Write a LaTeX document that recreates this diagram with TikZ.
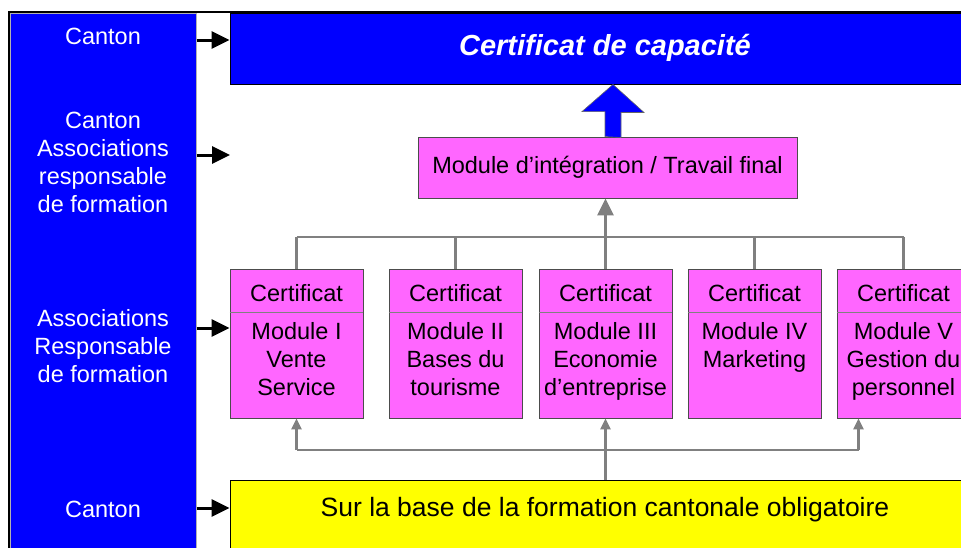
\documentclass[tikz,border=0pt]{standalone}
\usepackage{fontspec}
\setmainfont{Liberation Sans}
\usetikzlibrary{arrows.meta, positioning, calc}

\definecolor{capblue}{HTML}{0000FF}
\definecolor{modpink}{HTML}{FF66FF}
\definecolor{baseyellow}{HTML}{FFFF00}

\begin{document}
\begin{tikzpicture}[x=1pt, y=-1pt,
      txt/.style={
        font=\fontsize{23.5}{28}\selectfont, align=center, inner sep=0pt
      },
      side/.style={txt, text=white},
      module/.style={
        rectangle, draw=black!70, fill=modpink, line width=0.8pt,
        minimum width=133pt, minimum height=149pt, inner sep=0pt
      },
      blk/.style={
        -{Triangle[length=18pt, width=17pt]}, line width=3pt
      },
      wire/.style={draw=gray, line width=2.8pt},
      feed/.style={
        wire, -{Triangle[length=11pt, width=10pt]}
      },
      feedbig/.style={
        wire, -{Triangle[length=17pt, width=16pt]}
      }
    ]

    \useasboundingbox (0,0) rectangle (961,547);
    \clip (0,0) rectangle (961,547);

    % --- Left column ---
    \node[fill=capblue, draw=gray!60, line width=1pt, minimum width=186pt,
          minimum height=540pt, inner sep=0pt] (col) at (103,283) {};
    \draw[black, line width=1.6pt] (9,560) -- (9,12) -- (961,12);

    \node[side] (l1) at (103,36)  {Canton};
    \node[side] (l2) at (103,162) {Canton\\Associations\\responsable\\de formation};
    \node[side] (l3) at (103,346) {Associations\\Responsable\\de formation};
    \node[side] (l4) at (103,509) {Canton};

    % --- Top box ---
    \node[fill=capblue, draw=black, line width=1pt, minimum width=745pt,
          minimum height=71pt, inner sep=0pt] (cap) at (602.5,48.5) {};
    \node[font=\fontsize{29}{34}\selectfont\bfseries\itshape, text=white]
      (captxt) at (605,48) {Certificat de capacité};

    % --- Integration module ---
    \node[rectangle, draw=black!70, fill=modpink, line width=0.8pt,
          minimum width=379pt, minimum height=61pt, txt] (integ) at (607.5,167.5)
          {Module d’intégration / Travail final};

    % --- Block arrow ---
    \path (integ.north) ++(5.5,0) coordinate (bb);
    \coordinate (bt) at (bb |- cap.south);
    \filldraw[fill=capblue, draw=black!60, line width=0.6pt]
      (bb) ++(-8,0) -- ++(0,-25) -- ++(-23,0) -- (bt) -- ++(31,28)
      -- ++(-23,0) -- ++(0,25) -- cycle;

    % --- Module boxes ---
    \foreach \i/\x/\body in {1/296.5/{Module I\\Vente\\Service},
                             2/455.5/{Module II\\Bases du\\tourisme},
                             3/605.5/{Module III\\Economie\\d’entreprise},
                             4/754.5/{Module IV\\Marketing},
                             5/903.5/{Module V\\Gestion du\\personnel}} {
      \node[module] (m\i) at (\x,343.5) {};
      \node[txt] (c\i) at ($(m\i.north)+(0,24)$) {Certificat};
      \draw[gray, line width=0.8pt] ($(m\i.north west)+(0,44)$) -- ($(m\i.north east)+(0,44)$);
      \node[txt, anchor=north] (b\i) at ($(m\i.north)+(0,54)$) {\body};
    }

    % --- Base box ---
    \node[fill=baseyellow, draw=black, line width=1pt, minimum width=745pt,
          minimum height=80pt, inner sep=0pt] (base) at (602.5,520) {};
    \node[font=\fontsize{26.5}{32}\selectfont] (basetxt) at (605,510)
      {Sur la base de la formation cantonale obligatoire};

    % --- Gray connectors ---
    \coordinate (ybar) at (0,237);
    \coordinate (ylow) at (0,450);
    \coordinate (m5foot) at ($(m5.south)+(-45,0)$);

    \draw[wire] (m1.north |- ybar) -- (m5.north |- ybar);
    \foreach \i in {1,...,5}
      \draw[wire] (m\i.north) -- (m\i.north |- ybar);
    \draw[feedbig] (m3.north |- ybar) -- (integ.south -| m3.north);

    \draw[wire] (m1.south |- ylow) -- (m5foot |- ylow);
    \draw[feed] (m1.south |- ylow) -- (m1.south);
    \draw[feed] (m5foot |- ylow) -- (m5foot);
    \draw[feed] (m3.south |- base.north) -- (m3.south);

    % --- Black arrows ---
    \coordinate (a1) at (230,40);
    \coordinate (a2) at (230,155);
    \coordinate (a3) at (230,328);
    \coordinate (a4) at (230,508);
    \draw[blk] (col.east |- a1) -- (cap.west |- a1);
    \draw[blk] (col.east |- a2) -- (a2);
    \draw[blk] (col.east |- a3) -- (m1.west |- a3);
    \draw[blk] (col.east |- a4) -- (base.west |- a4);

  \end{tikzpicture}
\end{document}
